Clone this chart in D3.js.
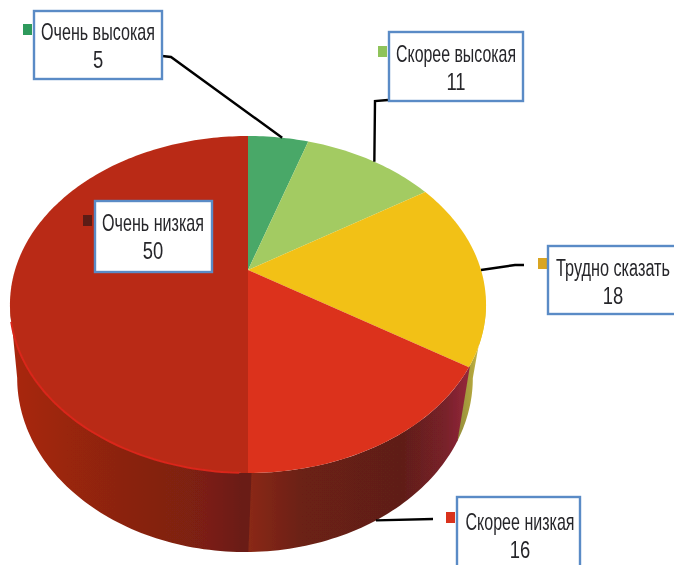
<!DOCTYPE html>
<html>
<head>
<meta charset="utf-8">
<script src="https://cdnjs.cloudflare.com/ajax/libs/d3/7.8.5/d3.min.js"></script>
<style>
  html, body { margin: 0; padding: 0; background: #fff; overflow: hidden; }
  svg { display: block; }
</style>
</head>
<body>
<script>
// Data
const categories = ['Очень высокая', 'Скорее высокая', 'Трудно сказать', 'Скорее низкая', 'Очень низкая'];
const values = [5, 11, 18, 16, 50];
const topColors = ['#48a868', '#a3cb62', '#f2c115', '#dc331b', '#b92b14'];
const keyColors = ['#2f9a5c', '#8fc35a', '#d9a520', '#d9301f', '#5c1a14'];

// Label layout: box, text position and width, legend key, leader elbow points
const boxes = [
  { x: 34, y: 11, w: 128, h: 68, tx: 98, base: 40, tw: 114, key: [23, 24], shift: 0.02, leader: [[171, 57], [162, 56]] },
  { x: 389, y: 32, w: 134, h: 69, tx: 456, base: 62, tw: 120, key: [378, 46], shift: 0.02, leader: [[375, 101], [388, 100]] },
  { x: 548, y: 246, w: 130, h: 68, tx: 613, base: 276, tw: 114, key: [538, 258], shift: 0, leader: [[515, 265], [524, 265]] },
  { x: 457, y: 497, w: 123, h: 75, tx: 520, base: 530, tw: 109, key: [446, 512], shift: 0, leader: [[433, 519]] },
  { x: 95, y: 201, w: 117, h: 71, tx: 153, base: 231, tw: 102, key: [83, 215], shift: 0, leader: null }
];

const width = 674, height = 565;

const svg = d3.select('body').append('svg')
  .attr('width', width)
  .attr('height', height);

const defs = svg.append('defs');

defs.append('filter').attr('id', 'soft')
  .attr('x', '-5%').attr('y', '-5%').attr('width', '110%').attr('height', '110%')
  .append('feGaussianBlur').attr('stdDeviation', 0.7);
defs.append('filter').attr('id', 'softText')
  .attr('x', '-5%').attr('y', '-10%').attr('width', '110%').attr('height', '120%')
  .append('feGaussianBlur').attr('stdDeviation', 0.35);

function hGradient(id, x1, x2, stops) {
  const g = defs.append('linearGradient').attr('id', id)
    .attr('gradientUnits', 'userSpaceOnUse')
    .attr('x1', x1).attr('x2', x2).attr('y1', 0).attr('y2', 0);
  stops.forEach(s => g.append('stop').attr('offset', s[0]).attr('stop-color', s[1]));
}

hGradient('sideLeft', 15, 243, [[0, '#a82611'], [0.45, '#8c2410'], [0.85, '#7a1f12'], [1, '#6a1d12']]);
hGradient('sideFront', 243, 468, [[0, '#8e2a13'], [0.25, '#6c2015'], [0.7, '#5f1f17'], [0.9, '#78202a'], [1, '#93283a']]);
hGradient('sideRight', 456, 484, [[0, '#8f8a3c'], [0.6, '#b3a63e'], [1, '#dccb5a']]);

// Perspective of the disc: apex is the projected centre, k the foreshortening
const k = 0.2047;
const topRim = { cx: 248, cy: 270, a: 233, b: 161.4 };
const baseRim = { cx: 245, cy: 342.4, a: 223, b: 166.7 };

function project(rim, angle) {
  const u = Math.sin(angle), v = Math.cos(angle), w = 1 + k * v;
  return [rim.cx + rim.a * u / w, rim.cy - rim.b * v / w];
}

function arcPoints(rim, a0, a1) {
  const n = Math.max(2, Math.ceil(Math.abs(a1 - a0) / 0.02));
  return d3.range(n + 1).map(i => project(rim, a0 + (a1 - a0) * i / n));
}

const pieData = d3.pie().sort(null).value(d => d)(values);
const line = d3.line();

// Side wall, only between the two silhouette angles
const silR = Math.acos(-k), silL = 2 * Math.PI - silR;
const sideFills = [null, null, 'url(#sideRight)', 'url(#sideFront)', 'url(#sideLeft)'];

const chart = svg.append('g').attr('filter', 'url(#soft)');

// small overlap at the start so no pale seam shows between wall pieces
chart.append('g').selectAll('path')
  .data(pieData.filter((d, i) => sideFills[i]))
  .join('path')
  .attr('fill', d => sideFills[d.index])
  .attr('d', d => {
    const a0 = Math.max(d.startAngle - 0.012, silR), a1 = Math.min(d.endAngle, silL);
    return line(arcPoints(topRim, a0, a1).concat(arcPoints(baseRim, a1, a0))) + 'Z';
  });

chart.append('g').selectAll('path')
  .data(pieData)
  .join('path')
  .attr('fill', (d, i) => topColors[i])
  .attr('d', d => line([[topRim.cx, topRim.cy]].concat(arcPoints(topRim, d.startAngle, d.endAngle))) + 'Z');

// Bright edge along the front rim of the large slice
chart.append('path')
  .attr('fill', 'none')
  .attr('stroke', '#d9261a')
  .attr('stroke-width', 2)
  .attr('d', line(arcPoints(topRim, Math.PI + 0.03, silL - 0.1)));

// Leaders start on the rim at each slice's middle angle
const leaders = svg.append('g').attr('filter', 'url(#softText)');
pieData.forEach((d, i) => {
  if (!boxes[i].leader) return;
  const mid = (d.startAngle + d.endAngle) / 2 + boxes[i].shift;
  const rim = mid > silR ? baseRim : topRim;
  leaders.append('path')
    .attr('fill', 'none')
    .attr('stroke', '#000')
    .attr('stroke-width', 2.4)
    .attr('d', line([project(rim, mid)].concat(boxes[i].leader)));
});

// Labels
const labels = svg.append('g').selectAll('g')
  .data(categories)
  .join('g')
  .attr('filter', 'url(#softText)');

labels.append('rect')
  .attr('x', (d, i) => boxes[i].key[0])
  .attr('y', (d, i) => boxes[i].key[1])
  .attr('width', 9)
  .attr('height', 11)
  .attr('fill', (d, i) => keyColors[i]);

labels.append('rect')
  .attr('x', (d, i) => boxes[i].x)
  .attr('y', (d, i) => boxes[i].y)
  .attr('width', (d, i) => boxes[i].w)
  .attr('height', (d, i) => boxes[i].h)
  .attr('fill', '#fff')
  .attr('stroke', '#5a8bc6')
  .attr('stroke-width', 2.4);

// the reference font is condensed, so squeeze each name to its measured width
labels.append('text')
  .attr('text-anchor', 'middle')
  .attr('font-family', '"Liberation Sans", sans-serif')
  .attr('font-size', 23)
  .attr('fill', '#26262a')
  .text(d => d)
  .attr('transform', function(d, i) {
    const sx = boxes[i].tw / this.getComputedTextLength();
    return `translate(${boxes[i].tx},${boxes[i].base}) scale(${sx},1)`;
  });

labels.append('text')
  .attr('text-anchor', 'middle')
  .attr('font-family', '"Liberation Sans", sans-serif')
  .attr('font-size', 23)
  .attr('fill', '#26262a')
  .attr('transform', (d, i) => `translate(${boxes[i].tx},${boxes[i].base + 28}) scale(0.8,1)`)
  .text((d, i) => values[i]);
</script>
</body>
</html>
